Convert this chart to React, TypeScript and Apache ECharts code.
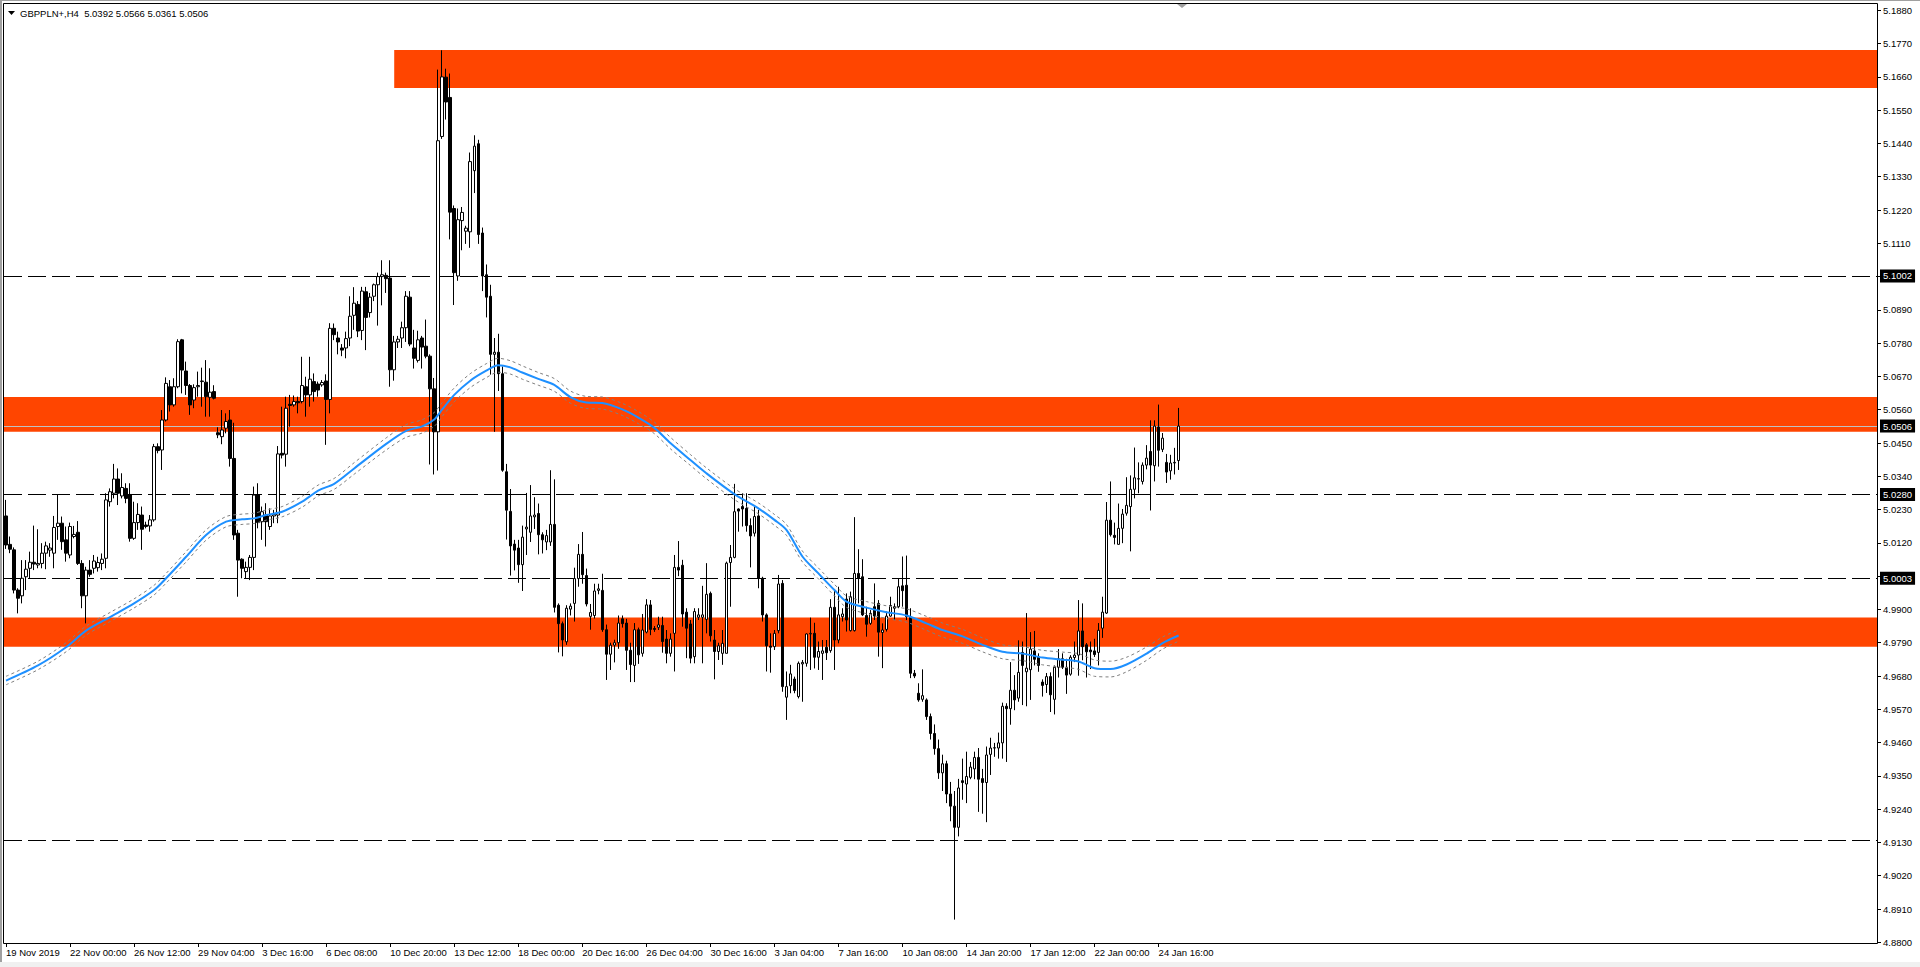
import React, { useEffect, useRef } from 'react';
import * as echarts from 'echarts';

const symbolName = 'GBPPLN+,H4';

const xTickLabels = [
  '19 Nov 2019', '22 Nov 00:00', '26 Nov 12:00', '29 Nov 04:00', '3 Dec 16:00', '6 Dec 08:00',
  '10 Dec 20:00', '13 Dec 12:00', '18 Dec 00:00', '20 Dec 16:00', '26 Dec 04:00', '30 Dec 16:00',
  '3 Jan 04:00', '7 Jan 16:00', '10 Jan 08:00', '14 Jan 20:00', '17 Jan 12:00', '22 Jan 00:00', '24 Jan 16:00',
];
const barsPerLabel = 16;
const totalSlots = 468;

const yTickLabels = [
  '4.8800', '4.8910', '4.9020', '4.9130', '4.9240', '4.9350', '4.9460', '4.9570', '4.9680', '4.9790',
  '4.9900', '5.0010', '5.0120', '5.0230', '5.0340', '5.0450', '5.0560', '5.0670', '5.0780', '5.0890',
  '5.1000', '5.1110', '5.1220', '5.1330', '5.1440', '5.1550', '5.1660', '5.1770', '5.1880',
];

// [open, high, low, close]
const ohlc: number[][] = [
  [5.0209, 5.0262, 5.0100, 5.0113], [5.0115, 5.0141, 5.0086, 5.0099], [5.0097, 5.0105, 4.9953, 4.9964], [4.9964, 4.9970, 4.9887, 4.9937],
  [4.9945, 5.0063, 4.9920, 5.0003], [5.0008, 5.0063, 4.9964, 5.0033], [5.0036, 5.0091, 5.0003, 5.0056], [5.0056, 5.0177, 5.0030, 5.0050],
  [5.0047, 5.0165, 5.0036, 5.0052], [5.0052, 5.0119, 5.0036, 5.0086], [5.0086, 5.0124, 5.0033, 5.0110], [5.0096, 5.0119, 5.0074, 5.0103],
  [5.0086, 5.0209, 5.0036, 5.0171], [5.0174, 5.0280, 5.0130, 5.0185], [5.0185, 5.0207, 5.0097, 5.0124], [5.0130, 5.0174, 5.0058, 5.0086],
  [5.0080, 5.0187, 5.0069, 5.0174], [5.0141, 5.0176, 5.0135, 5.0148], [5.0155, 5.0192, 5.0047, 5.0052], [5.0052, 5.0063, 4.9904, 4.9945],
  [4.9945, 5.0041, 4.9854, 5.0030], [5.0030, 5.0063, 5.0008, 5.0016], [5.0036, 5.0080, 5.0019, 5.0060], [5.0038, 5.0074, 5.0025, 5.0055],
  [5.0052, 5.0085, 5.0030, 5.0066], [5.0069, 5.0284, 5.0036, 5.0262], [5.0256, 5.0300, 5.0240, 5.0289], [5.0284, 5.0381, 5.0267, 5.0331],
  [5.0331, 5.0366, 5.0245, 5.0284], [5.0275, 5.0350, 5.0267, 5.0303], [5.0300, 5.0317, 5.0251, 5.0267], [5.0280, 5.0317, 5.0124, 5.0135],
  [5.0135, 5.0256, 5.0130, 5.0187], [5.0187, 5.0251, 5.0163, 5.0214], [5.0212, 5.0240, 5.0097, 5.0165], [5.0179, 5.0190, 5.0168, 5.0174],
  [5.0176, 5.0212, 5.0157, 5.0196], [5.0196, 5.0447, 5.0190, 5.0438], [5.0438, 5.0449, 5.0416, 5.0425], [5.0427, 5.0559, 5.0361, 5.0526],
  [5.0526, 5.0667, 5.0521, 5.0647], [5.0636, 5.0658, 5.0554, 5.0576], [5.0576, 5.0664, 5.0570, 5.0636], [5.0636, 5.0793, 5.0631, 5.0785],
  [5.0791, 5.0794, 5.0614, 5.0691], [5.0688, 5.0719, 5.0609, 5.0640], [5.0640, 5.0645, 5.0543, 5.0576], [5.0592, 5.0644, 5.0565, 5.0633],
  [5.0636, 5.0686, 5.0603, 5.0640], [5.0653, 5.0699, 5.0570, 5.0655], [5.0651, 5.0724, 5.0537, 5.0603], [5.0601, 5.0697, 5.0537, 5.0618],
  [5.0620, 5.0641, 5.0594, 5.0598], [5.0484, 5.0502, 5.0466, 5.0477], [5.0471, 5.0559, 5.0446, 5.0493], [5.0499, 5.0548, 5.0482, 5.0521],
  [5.0526, 5.0559, 5.0372, 5.0399], [5.0399, 5.0517, 5.0130, 5.0146], [5.0152, 5.0163, 4.9942, 5.0063], [5.0066, 5.0069, 5.0003, 5.0036],
  [5.0025, 5.0058, 5.0003, 5.0039], [5.0039, 5.0080, 4.9997, 5.0072], [5.0072, 5.0306, 5.0030, 5.0278], [5.0278, 5.0317, 5.0168, 5.0187],
  [5.0190, 5.0240, 5.0130, 5.0223], [5.0212, 5.0251, 5.0108, 5.0190], [5.0174, 5.0234, 5.0163, 5.0209], [5.0209, 5.0229, 5.0185, 5.0214],
  [5.0212, 5.0440, 5.0185, 5.0414], [5.0416, 5.0570, 5.0399, 5.0410], [5.0413, 5.0603, 5.0372, 5.0565], [5.0578, 5.0609, 5.0504, 5.0574],
  [5.0576, 5.0607, 5.0570, 5.0587], [5.0587, 5.0603, 5.0548, 5.0583], [5.0587, 5.0735, 5.0581, 5.0640], [5.0636, 5.0669, 5.0537, 5.0609],
  [5.0609, 5.0735, 5.0570, 5.0661], [5.0653, 5.0680, 5.0587, 5.0620], [5.0645, 5.0653, 5.0603, 5.0625], [5.0642, 5.0658, 5.0636, 5.0650],
  [5.0655, 5.0677, 5.0444, 5.0594], [5.0594, 5.0846, 5.0548, 5.0829], [5.0829, 5.0845, 5.0790, 5.0808], [5.0797, 5.0818, 5.0743, 5.0784],
  [5.0764, 5.0777, 5.0737, 5.0757], [5.0764, 5.0818, 5.0730, 5.0795], [5.0797, 5.0935, 5.0770, 5.0869], [5.0872, 5.0965, 5.0824, 5.0912],
  [5.0908, 5.0919, 5.0800, 5.0820], [5.0822, 5.0966, 5.0790, 5.0952], [5.0950, 5.0966, 5.0757, 5.0865], [5.0881, 5.0946, 5.0865, 5.0932],
  [5.0935, 5.0977, 5.0919, 5.0973], [5.0973, 5.1013, 5.0838, 5.1000], [5.1000, 5.1054, 5.0905, 5.1006], [5.1004, 5.1013, 5.0946, 5.0993],
  [5.0995, 5.1054, 5.0636, 5.0692], [5.0692, 5.0804, 5.0656, 5.0784], [5.0784, 5.0804, 5.0764, 5.0793], [5.0797, 5.0851, 5.0764, 5.0831],
  [5.0831, 5.0952, 5.0784, 5.0935], [5.0932, 5.0952, 5.0770, 5.0777], [5.0764, 5.0824, 5.0696, 5.0730], [5.0723, 5.0821, 5.0716, 5.0791],
  [5.0797, 5.0804, 5.0696, 5.0767], [5.0770, 5.0858, 5.0730, 5.0737], [5.0737, 5.0743, 5.0379, 5.0629], [5.0629, 5.0665, 5.0346, 5.0487],
  [5.0487, 5.1684, 5.0359, 5.1449], [5.1463, 5.1748, 5.1455, 5.1660], [5.1659, 5.1687, 5.1519, 5.1577], [5.1592, 5.1671, 5.1123, 5.1213],
  [5.1225, 5.1235, 5.0906, 5.1013], [5.1002, 5.1225, 5.0986, 5.1188], [5.1185, 5.1230, 5.1087, 5.1212], [5.1150, 5.1168, 5.1108, 5.1160],
  [5.1148, 5.1410, 5.1095, 5.1380], [5.1350, 5.1467, 5.1276, 5.1431], [5.1439, 5.1452, 5.1108, 5.1139], [5.1144, 5.1162, 5.0952, 5.1002],
  [5.1006, 5.1040, 5.0865, 5.0932], [5.0935, 5.0973, 5.0676, 5.0743], [5.0743, 5.0797, 5.0487, 5.0750], [5.0750, 5.0811, 5.0622, 5.0679],
  [5.0679, 5.0703, 5.0355, 5.0360], [5.0355, 5.0381, 5.0131, 5.0228], [5.0224, 5.0298, 5.0012, 5.0110], [5.0116, 5.0130, 5.0029, 5.0096],
  [5.0103, 5.0130, 4.9988, 5.0048], [5.0048, 5.0177, 4.9961, 5.0139], [5.0166, 5.0285, 5.0080, 5.0172], [5.0155, 5.0311, 5.0123, 5.0209],
  [5.0206, 5.0271, 5.0166, 5.0212], [5.0217, 5.0250, 5.0082, 5.0147], [5.0147, 5.0155, 5.0085, 5.0130], [5.0123, 5.0163, 5.0096, 5.0144],
  [5.0123, 5.0360, 5.0110, 5.0181], [5.0181, 5.0330, 4.9890, 4.9907], [4.9914, 4.9920, 4.9758, 4.9853], [4.9853, 4.9860, 4.9745, 4.9799],
  [4.9793, 4.9914, 4.9783, 4.9904], [4.9901, 4.9920, 4.9880, 4.9911], [4.9920, 5.0038, 4.9860, 5.0002], [5.0002, 5.0116, 4.9975, 5.0082],
  [5.0082, 5.0156, 4.9985, 5.0015], [5.0012, 5.0035, 4.9910, 4.9918], [4.9877, 4.9918, 4.9833, 4.9890], [4.9880, 4.9985, 4.9870, 4.9961],
  [4.9963, 4.9985, 4.9950, 4.9968], [4.9963, 5.0018, 4.9826, 4.9833], [4.9833, 4.9850, 4.9667, 4.9752], [4.9752, 4.9790, 4.9700, 4.9782],
  [4.9782, 4.9800, 4.9725, 4.9790], [4.9790, 4.9880, 4.9770, 4.9855], [4.9869, 4.9880, 4.9840, 4.9853], [4.9855, 4.9869, 4.9700, 4.9765],
  [4.9765, 4.9790, 4.9660, 4.9718], [4.9715, 4.9855, 4.9660, 4.9833], [4.9833, 4.9840, 4.9720, 4.9750], [4.9755, 4.9885, 4.9744, 4.9832],
  [4.9825, 4.9934, 4.9821, 4.9915], [4.9915, 4.9931, 4.9815, 4.9834], [4.9837, 4.9845, 4.9826, 4.9834], [4.9841, 4.9876, 4.9832, 4.9849],
  [4.9847, 4.9876, 4.9757, 4.9794], [4.9802, 4.9832, 4.9722, 4.9755], [4.9755, 4.9821, 4.9744, 4.9802], [4.9821, 5.0080, 4.9695, 5.0039],
  [5.0039, 5.0126, 5.0010, 5.0030], [5.0046, 5.0064, 4.9843, 4.9885], [4.9891, 4.9904, 4.9739, 4.9838], [4.9852, 4.9865, 4.9722, 4.9739],
  [4.9744, 4.9904, 4.9722, 4.9893], [4.9874, 4.9904, 4.9865, 4.9882], [4.9874, 4.9978, 4.9722, 4.9882], [4.9867, 5.0053, 4.9821, 4.9950],
  [4.9953, 4.9959, 4.9794, 4.9813], [4.9799, 4.9832, 4.9669, 4.9761], [4.9761, 4.9790, 4.9733, 4.9780], [4.9755, 4.9832, 4.9717, 4.9788],
  [4.9755, 5.0058, 4.9755, 5.0053], [5.0055, 5.0113, 4.9909, 5.0072], [5.0072, 5.0315, 5.0069, 5.0223], [5.0232, 5.0234, 5.0157, 5.0225],
  [5.0240, 5.0284, 5.0174, 5.0232], [5.0234, 5.0284, 5.0157, 5.0177], [5.0177, 5.0201, 5.0039, 5.0143], [5.0152, 5.0240, 5.0141, 5.0207],
  [5.0209, 5.0229, 4.9970, 5.0003], [5.0003, 5.0008, 4.9860, 4.9882], [4.9882, 4.9887, 4.9695, 4.9780], [4.9779, 4.9821, 4.9691, 4.9775],
  [4.9777, 4.9832, 4.9766, 4.9821], [4.9830, 5.0014, 4.9821, 4.9984], [4.9986, 4.9997, 4.9628, 4.9645], [4.9610, 4.9695, 4.9535, 4.9645],
  [4.9648, 4.9717, 4.9623, 4.9687], [4.9670, 4.9678, 4.9623, 4.9632], [4.9612, 4.9728, 4.9606, 4.9722], [4.9720, 4.9733, 4.9595, 4.9725],
  [4.9722, 4.9821, 4.9711, 4.9819], [4.9819, 4.9873, 4.9700, 4.9821], [4.9821, 4.9856, 4.9705, 4.9742], [4.9742, 4.9794, 4.9700, 4.9761],
  [4.9755, 4.9799, 4.9667, 4.9763], [4.9775, 4.9799, 4.9733, 4.9757], [4.9764, 4.9934, 4.9757, 4.9907], [4.9907, 4.9962, 4.9700, 4.9799],
  [4.9799, 4.9975, 4.9788, 4.9882], [4.9876, 4.9904, 4.9860, 4.9885], [4.9934, 4.9953, 4.9827, 4.9865], [4.9830, 4.9959, 4.9827, 4.9942],
  [4.9830, 5.0205, 4.9827, 5.0019], [5.0019, 5.0099, 4.9920, 5.0004], [5.0008, 5.0066, 4.9878, 4.9882], [4.9880, 4.9909, 4.9810, 4.9851],
  [4.9854, 4.9898, 4.9849, 4.9887], [4.9909, 4.9986, 4.9865, 4.9878], [4.9920, 4.9931, 4.9744, 4.9825], [4.9824, 4.9854, 4.9706, 4.9832],
  [4.9834, 4.9893, 4.9827, 4.9878], [4.9878, 4.9942, 4.9876, 4.9913], [4.9904, 4.9920, 4.9865, 4.9909], [4.9909, 5.0003, 4.9904, 4.9975],
  [4.9978, 5.0075, 4.9909, 4.9962], [4.9980, 5.0078, 4.9865, 4.9876], [4.9876, 4.9904, 4.9673, 4.9689], [4.9689, 4.9700, 4.9673, 4.9680],
  [4.9623, 4.9656, 4.9595, 4.9601], [4.9603, 4.9702, 4.9595, 4.9615], [4.9601, 4.9606, 4.9535, 4.9546], [4.9546, 4.9556, 4.9470, 4.9490],
  [4.9490, 4.9520, 4.9420, 4.9440], [4.9440, 4.9470, 4.9340, 4.9360], [4.9360, 4.9420, 4.9300, 4.9390], [4.9390, 4.9400, 4.9260, 4.9290],
  [4.9290, 4.9330, 4.9200, 4.9250], [4.9250, 4.9300, 4.8875, 4.9180], [4.9180, 4.9340, 4.9150, 4.9310], [4.9334, 4.9407, 4.9271, 4.9328],
  [4.9323, 4.9430, 4.9260, 4.9348], [4.9345, 4.9396, 4.9339, 4.9379], [4.9373, 4.9430, 4.9339, 4.9411], [4.9411, 4.9442, 4.9231, 4.9339],
  [4.9341, 4.9373, 4.9225, 4.9328], [4.9328, 4.9447, 4.9197, 4.9419], [4.9421, 4.9476, 4.9353, 4.9442], [4.9442, 4.9459, 4.9413, 4.9443],
  [4.9442, 4.9493, 4.9407, 4.9459], [4.9459, 4.9592, 4.9407, 4.9580], [4.9580, 4.9590, 4.9396, 4.9572], [4.9572, 4.9726, 4.9519, 4.9633],
  [4.9633, 4.9683, 4.9567, 4.9601], [4.9607, 4.9798, 4.9595, 4.9692], [4.9758, 4.9794, 4.9584, 4.9715], [4.9694, 4.9888, 4.9580, 4.9706],
  [4.9701, 4.9825, 4.9601, 4.9769], [4.9763, 4.9829, 4.9715, 4.9735], [4.9743, 4.9755, 4.9694, 4.9715], [4.9660, 4.9669, 4.9612, 4.9649],
  [4.9652, 4.9690, 4.9624, 4.9678], [4.9678, 4.9692, 4.9561, 4.9618], [4.9603, 4.9715, 4.9553, 4.9709], [4.9709, 4.9769, 4.9675, 4.9737],
  [4.9737, 4.9755, 4.9703, 4.9709], [4.9709, 4.9737, 4.9621, 4.9683], [4.9686, 4.9749, 4.9681, 4.9742], [4.9741, 4.9794, 4.9726, 4.9749],
  [4.9749, 4.9931, 4.9681, 4.9829], [4.9829, 4.9920, 4.9732, 4.9777], [4.9783, 4.9789, 4.9675, 4.9760], [4.9766, 4.9794, 4.9703, 4.9760],
  [4.9763, 4.9803, 4.9743, 4.9751], [4.9758, 4.9855, 4.9715, 4.9831], [4.9838, 4.9942, 4.9806, 4.9891], [4.9888, 5.0255, 4.9885, 5.0195],
  [5.0195, 5.0323, 5.0141, 5.0147], [5.0145, 5.0187, 5.0115, 5.0138], [5.0115, 5.0250, 5.0115, 5.0168], [5.0168, 5.0232, 5.0119, 5.0215],
  [5.0218, 5.0337, 5.0210, 5.0244], [5.0240, 5.0343, 5.0092, 5.0297], [5.0297, 5.0435, 5.0267, 5.0335], [5.0332, 5.0386, 5.0284, 5.0331],
  [5.0323, 5.0386, 5.0313, 5.0377], [5.0377, 5.0443, 5.0363, 5.0400], [5.0422, 5.0525, 5.0227, 5.0377], [5.0375, 5.0525, 5.0323, 5.0506],
  [5.0503, 5.0577, 5.0372, 5.0426], [5.0429, 5.0483, 5.0420, 5.0466], [5.0386, 5.0414, 5.0318, 5.0354], [5.0358, 5.0411, 5.0329, 5.0384],
  [5.0384, 5.0434, 5.0346, 5.0386], [5.0392, 5.0566, 5.0361, 5.0506],
];

// moving average read at sample bars, with its envelope offset
const maIdx = [0, 8, 15, 20, 26, 32, 37, 40, 45, 50, 55, 59, 62, 65, 69, 74, 78, 82, 87, 95, 100, 104, 107, 109, 112, 116, 120, 123, 126, 129, 133, 137, 141, 145, 149, 154, 158, 162, 166, 171, 175, 182, 188, 192, 195, 199, 203, 207, 210, 215, 220, 225, 230, 234, 239, 244, 249, 254, 259, 264, 268, 272, 276, 280, 285, 289, 293];
const maVal = [4.9665, 4.9715, 4.9775, 4.9830, 4.9875, 4.9920, 4.9964, 5.0003, 5.0074, 5.0146, 5.0190, 5.0198, 5.0201, 5.0212, 5.0223, 5.0256, 5.0293, 5.0315, 5.0366, 5.0447, 5.0490, 5.0505, 5.0528, 5.0561, 5.0609, 5.0656, 5.0689, 5.0707, 5.0700, 5.0683, 5.0662, 5.0642, 5.0602, 5.0584, 5.0582, 5.0561, 5.0534, 5.0500, 5.0450, 5.0394, 5.0350, 5.0281, 5.0234, 5.0196, 5.0163, 5.0075, 5.0019, 4.9964, 4.9926, 4.9906, 4.9891, 4.9880, 4.9854, 4.9832, 4.9811, 4.9783, 4.9760, 4.9754, 4.9741, 4.9734, 4.9728, 4.9706, 4.9703, 4.9718, 4.9754, 4.9789, 4.9814];
const envOff = [0.0014, 0.0014, 0.0015, 0.0015, 0.0015, 0.0015, 0.0016, 0.0016, 0.0017, 0.0017, 0.0017, 0.0017, 0.0017, 0.0017, 0.0017, 0.0018, 0.0018, 0.0018, 0.0019, 0.0020, 0.0021, 0.0022, 0.0023, 0.0023, 0.0023, 0.0023, 0.0023, 0.0023, 0.0022, 0.0022, 0.0021, 0.0021, 0.0020, 0.0020, 0.0020, 0.0020, 0.0020, 0.0019, 0.0019, 0.0018, 0.0018, 0.0018, 0.0018, 0.0018, 0.0018, 0.0018, 0.0018, 0.0019, 0.0019, 0.0020, 0.0021, 0.0022, 0.0023, 0.0023, 0.0023, 0.0023, 0.0023, 0.0023, 0.0024, 0.0025, 0.0026, 0.0027, 0.0026, 0.0024, 0.0022, 0.0020, 0.0019];

// supply / demand zones: [top, bottom, first bar or null for full width]
const zoneTops = [5.1749, 5.0602, 4.9873];
const zoneBottoms = [5.1623, 5.0487, 4.9777];
const zoneStart: (number | null)[] = [97, null, null];

// horizontal levels with price tags, and one without
const taggedLevels = [5.1002, 5.0280, 5.0003];
const plainLevels = [4.9138];

const Y_MIN = 4.87977;
const Y_MAX = 5.19008;
const FONT = 'Liberation Sans, Arial, sans-serif';
const FS = 9.5;

export default function App() {
  const ref = useRef<HTMLDivElement>(null);

  useEffect(() => {
    if (!ref.current) return;
    const chart = echarts.init(ref.current, null, { renderer: 'svg' });

    const candleData = ohlc.map(([o, h, l, c]) => [o, c, l, h]);
    const last = ohlc[ohlc.length - 1];
    const bid = last[3];
    const categories = Array.from({ length: totalSlots }, (_, i) => String(i));
    const isLabelIdx = (i: number) => i % barsPerLabel === 0 && i / barsPerLabel < xTickLabels.length;
    const yTicks = yTickLabels.map((s) => parseFloat(s));

    const maData = maIdx.map((i, k) => [i, maVal[k]]);
    const upData = maIdx.map((i, k) => [i, maVal[k] + envOff[k]]);
    const dnData = maIdx.map((i, k) => [i, maVal[k] - envOff[k]]);

    const zoneAreas = zoneTops.map((t, k) => {
      const first: any = { yAxis: t };
      if (zoneStart[k] !== null) first.xAxis = zoneStart[k];
      return [first, { yAxis: zoneBottoms[k] }];
    });

    const tagLabel = {
      show: true,
      position: 'end',
      distance: 3,
      formatter: (p: any) => Number(p.value).toFixed(4),
      backgroundColor: '#000',
      color: '#fff',
      padding: [2, 3, 1, 3],
      fontSize: FS,
      fontFamily: FONT,
    };

    const dash = [18, 6];
    const markLineData: any[] = [
      ...taggedLevels.map((v) => ({
        yAxis: v,
        lineStyle: { color: '#000', width: 1, type: dash },
        label: tagLabel,
      })),
      ...plainLevels.map((v) => ({
        yAxis: v,
        lineStyle: { color: '#000', width: 1, type: dash },
        label: { show: false },
      })),
      {
        yAxis: bid,
        lineStyle: { color: '#C0C0C0', width: 1, type: 'solid' },
        label: tagLabel,
      },
    ];

    const headerText = `${symbolName}  ${last.map((v) => v.toFixed(4)).join(' ')}`;

    chart.setOption({
      animation: false,
      backgroundColor: '#ffffff',
      textStyle: { fontFamily: FONT },
      grid: { left: 4, top: 4, width: 1873, height: 939, containLabel: false, show: false },
      xAxis: {
        type: 'category',
        data: categories,
        boundaryGap: true,
        axisLine: { show: false },
        axisTick: {
          show: true,
          alignWithLabel: true,
          length: 4,
          interval: (i: number) => isLabelIdx(i),
          lineStyle: { color: '#000', width: 1 },
        },
        axisLabel: {
          interval: (i: number) => isLabelIdx(i),
          formatter: (_v: string, i: number) => (isLabelIdx(i) ? xTickLabels[i / barsPerLabel] : ''),
          align: 'left',
          margin: 4,
          color: '#000',
          fontSize: FS,
          fontFamily: FONT,
        },
        splitLine: { show: false },
      },
      yAxis: {
        type: 'value',
        position: 'right',
        min: Y_MIN,
        max: Y_MAX,
        scale: true,
        axisLine: { show: false },
        axisTick: {
          show: true,
          length: 4,
          customValues: yTicks,
          lineStyle: { color: '#000', width: 1 },
        },
        axisLabel: {
          customValues: yTicks,
          formatter: (v: number) => v.toFixed(4),
          margin: 6,
          color: '#000',
          fontSize: FS,
          fontFamily: FONT,
        },
        splitLine: { show: false },
      },
      series: [
        {
          type: 'candlestick',
          data: candleData,
          barWidth: 3,
          z: 2,
          itemStyle: {
            color: '#ffffff',
            color0: '#000000',
            borderColor: '#000000',
            borderColor0: '#000000',
            borderWidth: 1,
          },
          markArea: {
            silent: true,
            z: 1,
            itemStyle: { color: '#FF4500', borderWidth: 0 },
            data: zoneAreas,
          },
          markLine: {
            silent: true,
            symbol: ['none', 'none'],
            precision: 4,
            z: 1,
            data: markLineData,
          },
        },
        {
          type: 'line',
          data: upData,
          showSymbol: false,
          smooth: 0.3,
          z: 3,
          lineStyle: { color: '#808080', width: 1, type: [3, 3] },
        },
        {
          type: 'line',
          data: dnData,
          showSymbol: false,
          smooth: 0.3,
          z: 3,
          lineStyle: { color: '#808080', width: 1, type: [3, 3] },
        },
        {
          type: 'line',
          data: maData,
          showSymbol: false,
          smooth: 0.3,
          z: 4,
          lineStyle: { color: '#1E90FF', width: 2 },
        },
      ],
      graphic: [
        { type: 'rect', shape: { x: 0, y: 0, width: 2, height: 967 }, style: { fill: '#A0A0A0' }, silent: true },
        { type: 'rect', shape: { x: 0, y: 0, width: 1920, height: 1 }, style: { fill: '#A0A0A0' }, silent: true },
        { type: 'rect', shape: { x: 0, y: 962, width: 1920, height: 5 }, style: { fill: '#F0F0F0' }, silent: true },
        {
          type: 'rect',
          shape: { x: 3.5, y: 3.5, width: 1874, height: 940 },
          style: { fill: 'none', stroke: '#000', lineWidth: 1 },
          silent: true,
          z: 10,
        },
        {
          type: 'polygon',
          shape: { points: [[8, 11], [15, 11], [11.5, 15]] },
          style: { fill: '#000' },
          silent: true,
          z: 10,
        },
        {
          type: 'text',
          x: 20,
          y: 13,
          style: { text: headerText, fill: '#000', font: `${FS}px ${FONT}`, textVerticalAlign: 'middle' },
          silent: true,
          z: 10,
        },
        {
          type: 'polygon',
          shape: { points: [[1177, 4], [1187, 4], [1182, 8]] },
          style: { fill: '#A0A0A0' },
          silent: true,
          z: 10,
        },
      ],
    });

    return () => chart.dispose();
  }, []);

  return (
    <div
      ref={ref}
      style={{ position: 'absolute', left: 0, top: 0, width: 1920, height: 967, background: '#fff' }}
    />
  );
}
